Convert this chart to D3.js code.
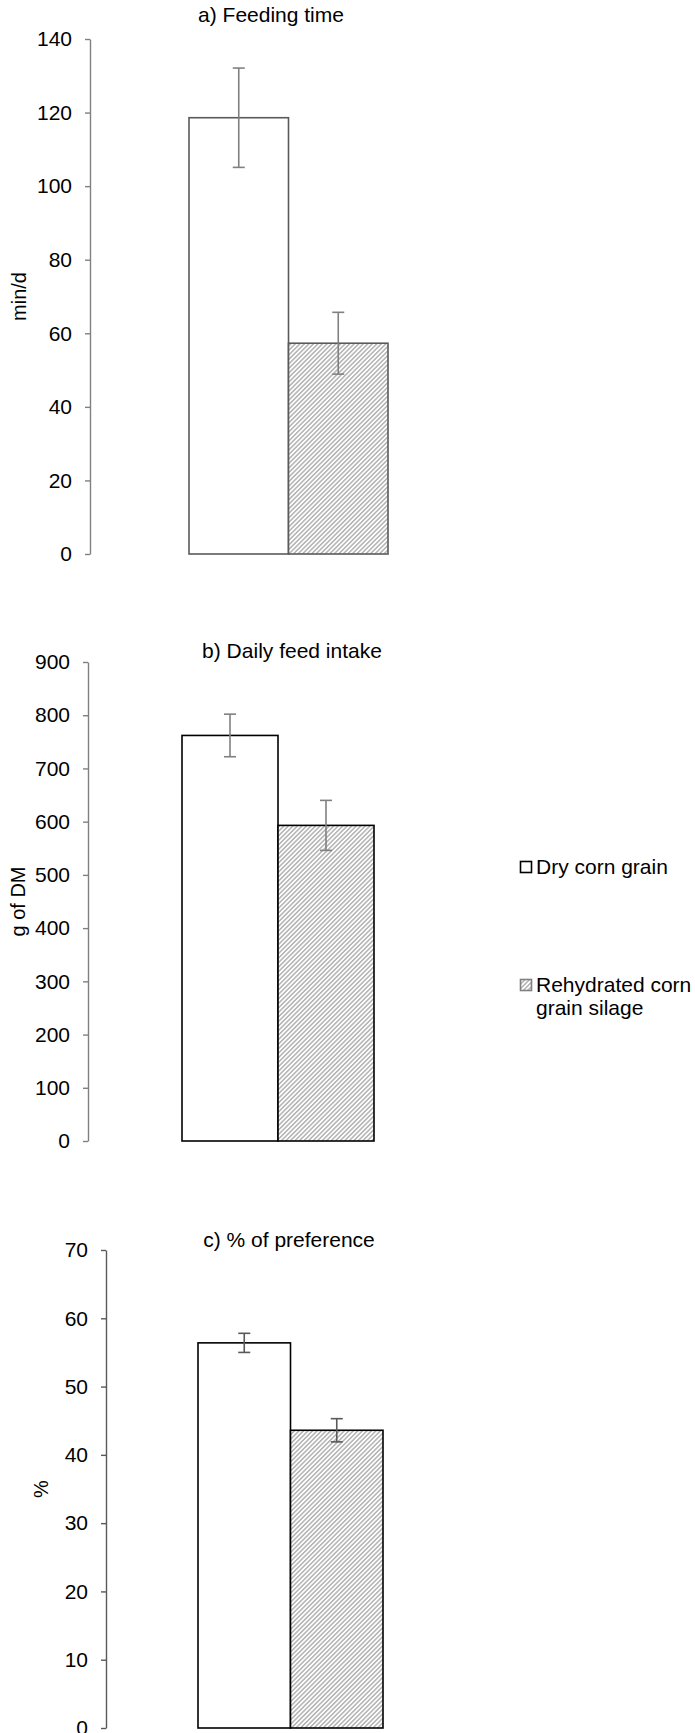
<!DOCTYPE html>
<html>
<head>
<meta charset="utf-8">
<script src="https://cdn.jsdelivr.net/npm/d3@7"></script>
<style>
  body { margin: 0; background: #fff; }
  svg { display: block; font-family: "Liberation Sans", Arial, sans-serif; }
</style>
</head>
<body>
<div id="chart"></div>
<script>
const categories = ['Dry corn grain', 'Rehydrated corn grain silage'];

const feedingTime = [118.6, 57.3];
const feedingTimeErr = [13.5, 8.4];
const feedingTimeTicks = [0, 20, 40, 60, 80, 100, 120, 140];

const feedIntake = [762, 593];
const feedIntakeErr = [40, 47];
const feedIntakeTicks = [0, 100, 200, 300, 400, 500, 600, 700, 800, 900];

const preference = [56.4, 43.6];
const preferenceErr = [1.4, 1.7];
const preferenceTicks = [0, 10, 20, 30, 40, 50, 60, 70];

const width = 695;
const height = 1733;

const svg = d3.select('#chart')
  .append('svg')
  .attr('width', width)
  .attr('height', height);

// diagonal hatch used by the silage bars
const defs = svg.append('defs');
const hatch = defs.append('pattern')
  .attr('id', 'hatch')
  .attr('width', 3.2)
  .attr('height', 3.2)
  .attr('patternUnits', 'userSpaceOnUse')
  .attr('patternTransform', 'rotate(45)');
hatch.append('rect').attr('width', 3.2).attr('height', 3.2).attr('fill', '#fff');
hatch.append('rect').attr('width', 1.5).attr('height', 3.2).attr('fill', '#b2b2b2');

const panels = [
  {
    title: 'a) Feeding time', ylabel: 'min/d',
    values: feedingTime, errors: feedingTimeErr, ticks: feedingTimeTicks,
    axisX: 90, top: 39, bottom: 554, barLeft: 189, barRight: 388,
    titleX: 271, titleY: 22, labelX: 19,
    axisColor: '#808080', barStroke: '#5a5a5a', errColor: '#808080'
  },
  {
    title: 'b) Daily feed intake', ylabel: 'g of DM',
    values: feedIntake, errors: feedIntakeErr, ticks: feedIntakeTicks,
    axisX: 88, top: 662, bottom: 1141, barLeft: 182, barRight: 374,
    titleX: 292, titleY: 658, labelX: 18,
    axisColor: '#808080', barStroke: '#000', errColor: '#808080'
  },
  {
    title: 'c) % of preference', ylabel: '%',
    values: preference, errors: preferenceErr, ticks: preferenceTicks,
    axisX: 106, top: 1250, bottom: 1728, barLeft: 198, barRight: 383,
    titleX: 289, titleY: 1247, labelX: 41,
    axisColor: '#595959', barStroke: '#000', errColor: '#595959'
  }
];

panels.forEach(p => {
  const g = svg.append('g');

  const y = d3.scaleLinear()
    .domain([0, d3.max(p.ticks)])
    .range([p.bottom, p.top]);

  const x = d3.scaleBand()
    .domain(categories)
    .range([p.barLeft, p.barRight])
    .padding(0);

  // y axis
  const axis = g.append('g')
    .attr('transform', `translate(${p.axisX},0)`)
    .call(d3.axisLeft(y).tickValues(p.ticks).tickSize(5).tickSizeOuter(0).tickPadding(13));
  axis.select('.domain').attr('stroke', p.axisColor).attr('stroke-width', 1.4);
  axis.selectAll('.tick line').attr('stroke', p.axisColor).attr('stroke-width', 1.4);
  axis.selectAll('.tick text')
    .attr('fill', '#000')
    .style('font-size', '21px')
    .style('font-family', '"Liberation Sans", Arial, sans-serif');

  // bars
  g.selectAll('rect.bar')
    .data(p.values)
    .enter()
    .append('rect')
    .attr('class', 'bar')
    .attr('x', (d, i) => x(categories[i]))
    .attr('y', d => y(d))
    .attr('width', x.bandwidth())
    .attr('height', d => y(0) - y(d))
    .attr('fill', (d, i) => i === 0 ? '#fff' : 'url(#hatch)')
    .attr('stroke', p.barStroke)
    .attr('stroke-width', 1.6);

  // error bars
  const err = g.selectAll('g.err')
    .data(p.values)
    .enter()
    .append('g')
    .attr('class', 'err')
    .attr('stroke', p.errColor)
    .attr('stroke-width', 1.6);
  const cx = i => x(categories[i]) + x.bandwidth() / 2;
  err.append('line')
    .attr('x1', (d, i) => cx(i)).attr('x2', (d, i) => cx(i))
    .attr('y1', (d, i) => y(d + p.errors[i])).attr('y2', (d, i) => y(d - p.errors[i]));
  err.append('line')
    .attr('x1', (d, i) => cx(i) - 6).attr('x2', (d, i) => cx(i) + 6)
    .attr('y1', (d, i) => y(d + p.errors[i])).attr('y2', (d, i) => y(d + p.errors[i]));
  err.append('line')
    .attr('x1', (d, i) => cx(i) - 6).attr('x2', (d, i) => cx(i) + 6)
    .attr('y1', (d, i) => y(d - p.errors[i])).attr('y2', (d, i) => y(d - p.errors[i]));

  // title
  g.append('text')
    .attr('x', p.titleX)
    .attr('y', p.titleY)
    .attr('text-anchor', 'middle')
    .style('font-size', '21px')
    .text(p.title);

  // y label
  g.append('text')
    .attr('transform', `translate(${p.labelX},${(p.top + p.bottom) / 2}) rotate(-90)`)
    .attr('text-anchor', 'middle')
    .attr('dy', '0.35em')
    .style('font-size', '20px')
    .text(p.ylabel);
});

// legend, beside the middle panel
const legendX = 520;
const legendRows = [
  { y: 861, lines: ['Dry corn grain'] },
  { y: 979, lines: ['Rehydrated corn', 'grain silage'] }
];
const legend = svg.selectAll('.legend')
  .data(legendRows)
  .enter()
  .append('g')
  .attr('class', 'legend')
  .attr('transform', d => `translate(${legendX},${d.y})`);

legend.append('rect')
  .attr('x', 0.5)
  .attr('y', 0.5)
  .attr('width', 11)
  .attr('height', 11)
  .attr('fill', (d, i) => i === 0 ? '#fff' : 'url(#hatch)')
  .attr('stroke', (d, i) => i === 0 ? '#000' : '#808080')
  .attr('stroke-width', 1.6);

legend.append('text')
  .attr('x', 16)
  .attr('y', 12.5)
  .style('font-size', '21px')
  .selectAll('tspan')
  .data(d => d.lines)
  .enter()
  .append('tspan')
  .attr('x', 16)
  .attr('dy', (d, i) => i === 0 ? 0 : 23.5)
  .text(d => d);
</script>
</body>
</html>
